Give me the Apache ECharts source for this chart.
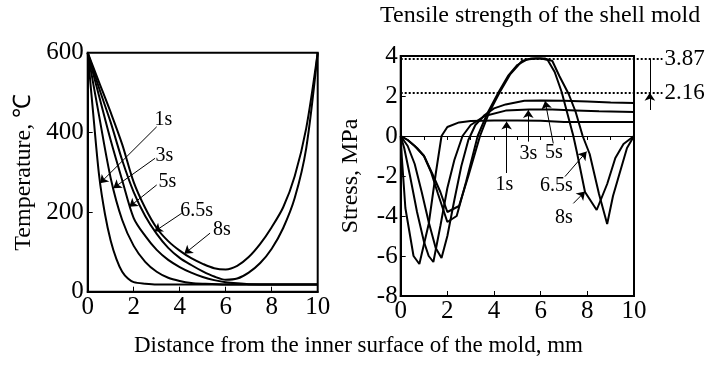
<!DOCTYPE html>
<html>
<head>
<meta charset="utf-8">
<script src="https://cdn.jsdelivr.net/npm/echarts@6/dist/echarts.min.js"></script>
<style>
  html, body { margin: 0; padding: 0; background: #fff; }
  #chart { width: 717px; height: 367px; }
</style>
</head>
<body>
<div id="chart"></div>
<script>
// temperature profiles, [distance mm, temperature C]
const temp1s = [[0,600],[0.25,440],[0.5,290],[0.75,195],[1,128],[1.25,82],[1.5,50],[1.75,33],[2,24],[2.5,20],[3,18],[4,18],[6,18],[8,18],[10,18]];
const temp3s = [[0,600],[0.5,440],[1,285],[1.5,180],[2,115],[2.5,75],[3,50],[3.5,35],[4,27],[4.5,22],[5,20],[6,18],[8,18],[10,18]];
const temp5s = [[0,600],[0.5,490],[1,380],[1.5,280],[2,185],[2.5,140],[3,105],[3.5,80],[4,62],[4.5,48],[5,37],[5.5,29],[6,24],[6.5,21],[7,19],[8,18],[10,18]];
const temp65s = [[0,600],[0.5,510],[1,425],[1.5,330],[2,250],[2.5,190],[3,145],[3.5,110],[4,85],[4.5,67],[5,51],[5.5,38],[6,30],[6.5,33],[7,48],[7.5,72],[8,108],[8.5,160],[9,235],[9.5,360],[10,600]];
const temp8s = [[0,600],[0.5,525],[1,450],[1.5,370],[2,275],[2.5,210],[3,160],[3.5,127],[4,103],[4.5,84],[5,70],[5.5,59],[6,56],[6.5,65],[7,87],[7.5,120],[8,162],[8.5,212],[9,290],[9.5,410],[10,600]];

// stress profiles, [distance mm, stress MPa]
const stress1s = [[0,0],[0.05,-1.1],[0.2,-3.6],[0.55,-6.0],[0.8,-6.4],[1.2,-4.4],[1.5,-1.9],[1.75,0],[2,0.45],[2.5,0.68],[3,0.75],[4,0.78],[5,0.78],[6,0.76],[7,0.7],[8,0.7],[10,0.7]];
const stress3s = [[0,0],[0.15,-0.6],[0.4,-2],[0.7,-3.8],[1,-5.3],[1.2,-6.0],[1.4,-6.3],[1.7,-4.5],[2,-2.6],[2.3,-1.2],[2.65,0],[3,0.55],[3.6,1.0],[4.5,1.27],[5.5,1.33],[6.5,1.32],[7.5,1.28],[8.5,1.24],[10,1.2]];
const stress5s = [[0,0],[0.3,-0.5],[0.6,-1.4],[0.9,-2.8],[1.2,-4.3],[1.5,-5.6],[1.75,-6.1],[2,-5.0],[2.3,-3.2],[2.6,-1.5],[2.9,-0.2],[3.2,0.55],[3.6,1.05],[4,1.38],[4.5,1.58],[5.3,1.76],[6,1.78],[7,1.76],[8,1.72],[9,1.68],[10,1.65]];
const stress65s = [[0,0],[0.3,-0.2],[0.6,-0.5],[1,-1.0],[1.3,-1.8],[1.6,-2.9],[2,-4.3],[2.4,-4.0],[2.8,-2.3],[3.3,0],[3.7,1.1],[4.2,2.2],[4.6,3.0],[5,3.55],[5.4,3.82],[5.8,3.88],[6.2,3.87],[6.5,3.75],[6.8,3.0],[7.2,2.1],[7.5,1.2],[7.8,0],[8.1,-0.9],[8.5,-2.9],[8.85,-4.4],[9.1,-3.0],[9.3,-2.2],[9.7,-0.6],[10,0]];
const stress8s = [[0,0],[0.3,-0.2],[0.7,-0.6],[1,-1.0],[1.4,-2.0],[1.7,-2.8],[2,-3.8],[2.5,-3.5],[2.9,-2.0],[3.4,0],[3.8,1.2],[4.25,2.2],[4.7,3.1],[5.2,3.75],[5.6,3.88],[6,3.88],[6.3,3.8],[6.6,3.2],[6.9,2.2],[7.15,1.1],[7.4,0],[7.55,-0.8],[7.9,-2.8],[8.4,-3.7],[8.85,-2.4],[9.2,-1.1],[9.55,-0.4],[10,0]];

const strengthLevels = [3.87, 2.16];

// annotation arrows: label, text centre, arrow tail, arrow tip (data units)
const tempArrows = [
  ['1s', [3.29, 431], [3.0, 414], [0.53, 272]],
  ['3s', [3.33, 341], [2.93, 335], [1.11, 260]],
  ['5s', [3.47, 276], [3.0, 268], [1.81, 213]],
  ['6.5s', [4.74, 203], [4.09, 197], [2.9, 151]],
  ['8s', [5.83, 155], [5.32, 147], [4.2, 95]]
];
const stressArrows = [
  ['1s', [4.44, -2.45], [4.54, -1.85], [4.54, 0.72]],
  ['3s', [5.47, -0.9], [5.47, -0.28], [5.47, 1.3]],
  ['5s', [6.57, -0.82], [6.54, -0.37], [6.19, 1.75]],
  ['6.5s', [6.67, -2.5], [7.04, -2.03], [7.97, -0.78]],
  ['8s', [7.0, -4.07], [7.4, -3.37], [7.9, -2.78]]
];

const FONT = 'Liberation Serif';
var myChart = echarts.init(document.getElementById('chart'));

function axisX(grid, extra) {
  return Object.assign({
    gridIndex: grid, type: 'value', min: 0, max: 10, interval: 2,
    axisLine: { onZero: false, lineStyle: { color: '#000', width: 2 } },
    axisTick: { inside: true, length: 5, lineStyle: { color: '#000', width: 1 } },
    axisLabel: { color: '#000', fontSize: 25, fontFamily: FONT, margin: 3 },
    splitLine: { show: false }
  }, extra);
}
function axisY(grid, extra) {
  return Object.assign({
    gridIndex: grid, type: 'value',
    axisLine: { show: true, lineStyle: { color: '#000', width: 2 } },
    axisTick: { inside: true, length: 5, lineStyle: { color: '#000', width: 1 } },
    axisLabel: { color: '#000', fontSize: 25, fontFamily: FONT, margin: 4 },
    nameLocation: 'middle',
    nameTextStyle: { color: '#000', fontSize: 24, fontFamily: FONT },
    splitLine: { show: false }
  }, extra);
}

function curve(data, xi, yi, smooth) {
  return {
    type: 'line', xAxisIndex: xi, yAxisIndex: yi, data: data,
    showSymbol: false, smooth: smooth, silent: true,
    lineStyle: { color: '#000', width: 2 }
  };
}

function arrowMarks(list) {
  return {
    markLine: {
      silent: true, symbol: ['none', 'arrow'], symbolSize: 8,
      label: { show: false },
      lineStyle: { color: '#000', width: 1, type: 'solid' },
      data: list.map(a => [{ coord: a[2] }, { coord: a[3] }])
    },
    markPoint: {
      silent: true, symbol: 'circle', symbolSize: 1,
      itemStyle: { color: 'rgba(0,0,0,0)' },
      label: { show: true, position: 'inside', formatter: '{b}', color: '#000', fontSize: 20, fontFamily: FONT },
      data: list.map(a => ({ name: a[0], coord: a[1] }))
    }
  };
}

var s1 = curve(temp1s, 0, 0, 0.3);
Object.assign(s1, arrowMarks(tempArrows));
var r1 = curve(stress1s, 1, 1, false);
Object.assign(r1, arrowMarks(stressArrows));

var option = {
  backgroundColor: '#fff',
  animation: false,
  grid: [
    { left: 87.7, top: 52.7, width: 230, height: 239, show: true, borderColor: '#000', borderWidth: 2 },
    { left: 400.7, top: 56, width: 233.3, height: 240, show: true, borderColor: '#000', borderWidth: 2 },
    { left: 400.7, top: 56, width: 303.3, height: 240 }
  ],
  xAxis: [
    axisX(0),
    axisX(1),
    axisX(1, {
      axisLine: { onZero: true, lineStyle: { color: '#000', width: 1 } },
      interval: 1, axisLabel: { show: false },
      axisTick: { inside: true, length: 4, lineStyle: { color: '#000', width: 1 } }
    }),
    { gridIndex: 2, type: 'value', min: 0, max: 13, show: false }
  ],
  yAxis: [
    axisY(0, { min: 0, max: 600, interval: 200, name: 'Temperature, \u2103', nameGap: 52 }),
    axisY(1, { min: -8, max: 4, interval: 2, name: 'Stress, MPa', nameGap: 38, axisLabel: { color: '#000', fontSize: 25, fontFamily: FONT, margin: 3 } }),
    { gridIndex: 2, type: 'value', min: -8, max: 4, show: false }
  ],
  graphic: [
    { type: 'text', left: 380, top: 4, style: { text: 'Tensile strength of the shell mold', font: '24px "Liberation Serif"', fill: '#000' } },
    { type: 'text', left: 'center', top: 334, style: { text: 'Distance from the inner surface of the mold, mm', font: '23px "Liberation Serif"', fill: '#000' } }
  ],
  series: [
    s1,
    curve(temp3s, 0, 0, 0.3),
    curve(temp5s, 0, 0, 0.3),
    curve(temp65s, 0, 0, 0.3),
    curve(temp8s, 0, 0, 0.3),
    r1,
    curve(stress3s, 1, 1, false),
    curve(stress5s, 1, 1, false),
    curve(stress65s, 1, 1, false),
    curve(stress8s, 1, 1, false),
    {
      type: 'line', xAxisIndex: 3, yAxisIndex: 2, data: [[0, strengthLevels[0]]],
      showSymbol: false, silent: true, lineStyle: { width: 0 },
      markLine: {
        silent: true, symbol: 'none',
        lineStyle: { color: '#000', width: 2, type: 'dotted' },
        label: { show: true, position: 'end', distance: 2, color: '#000', fontSize: 23, fontFamily: FONT, formatter: '{b}' },
        data: strengthLevels.map(v => [
          { name: v.toFixed(2), coord: [0, v] },
          { coord: [11.22, v] }
        ]).concat([
          [{ coord: [10.68, 4.8], symbol: 'none', lineStyle: { type: 'solid', width: 1 }, label: { show: false } },
           { coord: [10.68, strengthLevels[0]], symbol: 'arrow', symbolSize: 8 }],
          [{ coord: [10.68, strengthLevels[0]], lineStyle: { type: 'solid', width: 1 }, label: { show: false } },
           { coord: [10.68, strengthLevels[1]] }],
          [{ coord: [10.68, 1.3], symbol: 'none', lineStyle: { type: 'solid', width: 1 }, label: { show: false } },
           { coord: [10.68, strengthLevels[1]], symbol: 'arrow', symbolSize: 8 }]
        ])
      }
    }
  ]
};
myChart.setOption(option);
</script>
</body>
</html>
